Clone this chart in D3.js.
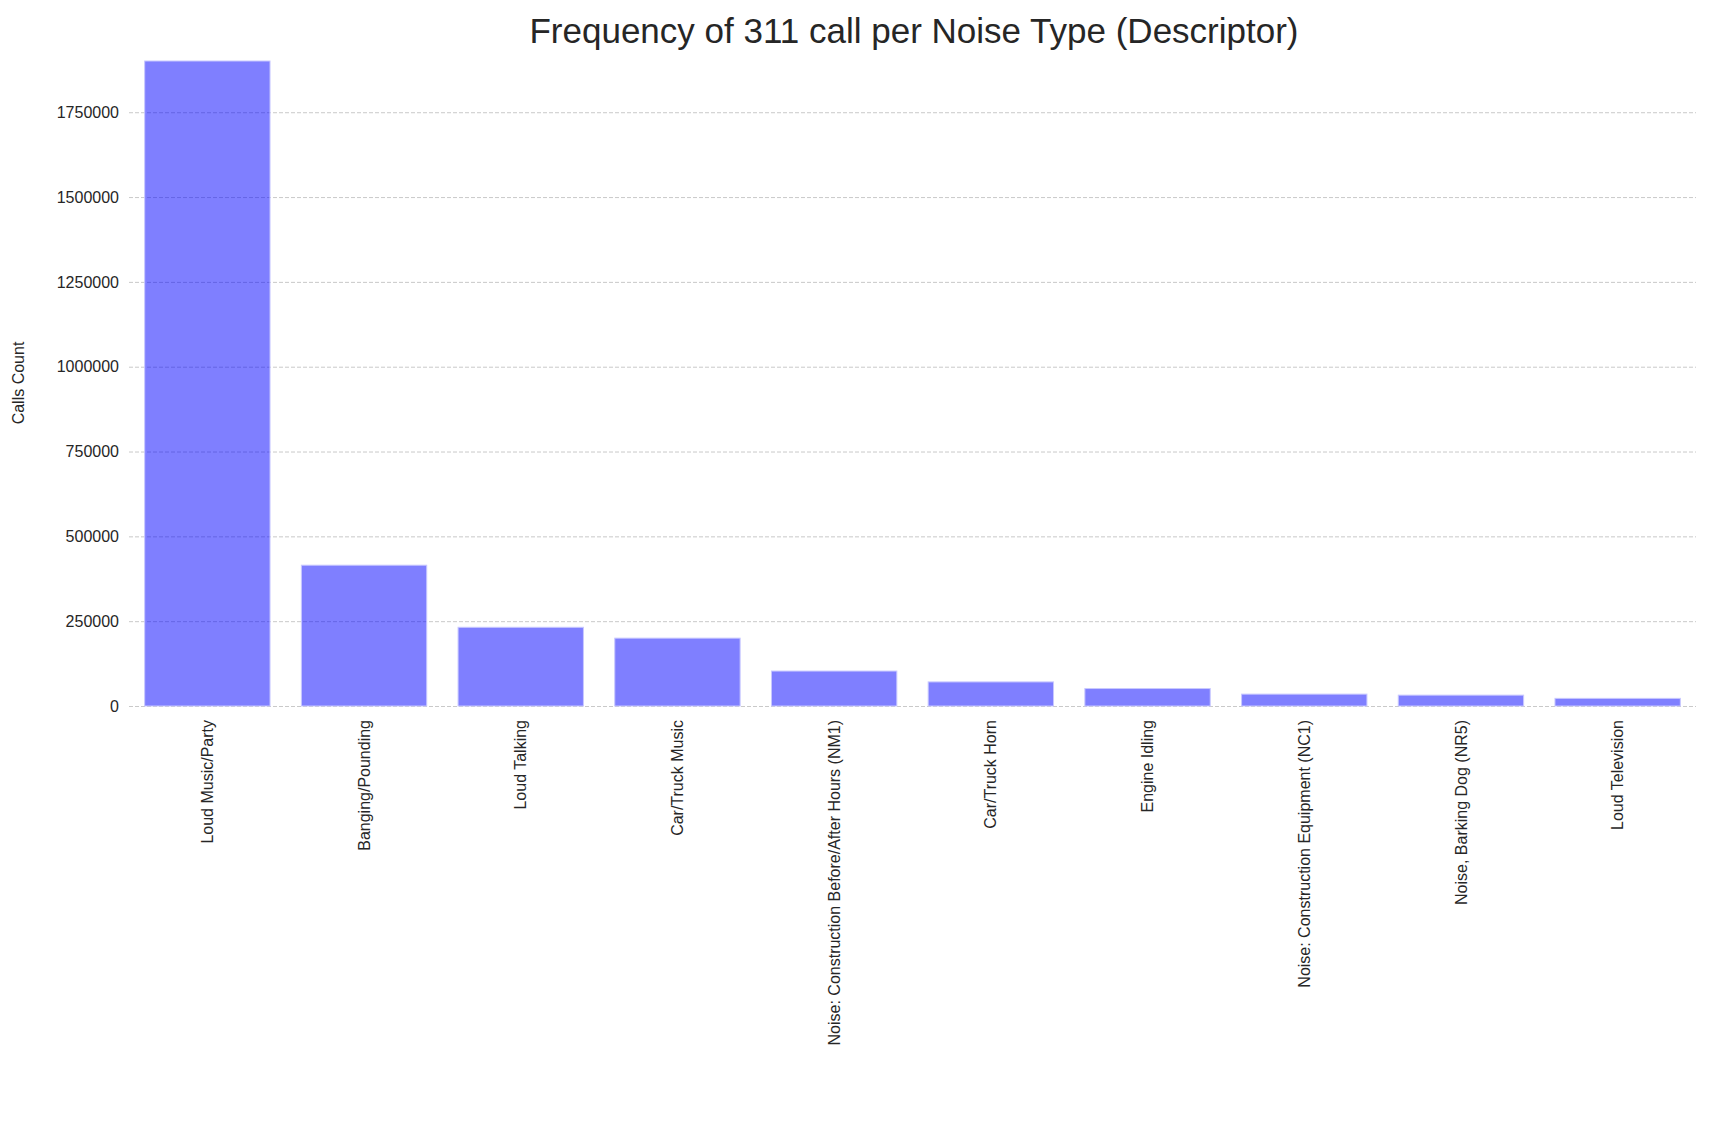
<!DOCTYPE html>
<html><head><meta charset="utf-8">
<script src="https://cdn.jsdelivr.net/npm/d3@7"></script>
<style>body{margin:0;background:#fff}text{font-family:Arial,"Liberation Sans",sans-serif;fill:#262626}</style>
</head><body><svg id="c" width="1710" height="1141"></svg>
<script>
const categories=["Loud Music/Party","Banging/Pounding","Loud Talking","Car/Truck Music","Noise: Construction Before/After Hours (NM1)","Car/Truck Horn","Engine Idling","Noise: Construction Equipment (NC1)","Noise, Barking Dog (NR5)","Loud Television"];
const values=[1901000,415000,232000,200000,103000,71000,51500,35000,32000,22500];
const yTicks=[0,250000,500000,750000,1000000,1250000,1500000,1750000];
const svg=d3.select("#c");
const L=129,R=1696,T=61,B=706;
const x=d3.scaleBand().domain(categories).range([L,R]).paddingInner(0.2).paddingOuter(0.1);
const y=d3.scaleLinear().domain([0,1901000]).range([B,T]);
const ya=svg.append("g").attr("transform",`translate(${L},0)`).call(d3.axisLeft(y).tickValues(yTicks).tickFormat(d3.format("d")).tickSize(-(R-L)).tickPadding(10));
ya.select(".domain").remove();
ya.selectAll("line").attr("stroke","#bbb").attr("stroke-dasharray","4,2").attr("stroke-width",0.8);
ya.selectAll("text").attr("font-size",16);
svg.append("g").selectAll("rect").data(values).join("rect")
 .attr("x",(d,i)=>x(categories[i])).attr("width",x.bandwidth())
 .attr("y",d=>y(d)).attr("height",d=>B-y(d))
 .attr("fill","rgba(0,0,255,0.5)").attr("stroke","#c8c8ff").attr("stroke-width",1);
const xa=svg.append("g").attr("transform",`translate(0,${B})`).call(d3.axisBottom(x).tickSize(0).tickPadding(0));
xa.select(".domain").remove();
xa.selectAll("text").attr("font-size",16).attr("transform","rotate(-90)").attr("text-anchor","end").attr("x",-14).attr("y",0).attr("dy","0.35em");
svg.append("text").attr("transform","translate(24,383) rotate(-90)").attr("text-anchor","middle").attr("font-size",16).text("Calls Count");
svg.append("text").attr("x",914).attr("y",43).attr("text-anchor","middle").attr("font-size",35).text("Frequency of 311 call per Noise Type (Descriptor)");
</script></body></html>
